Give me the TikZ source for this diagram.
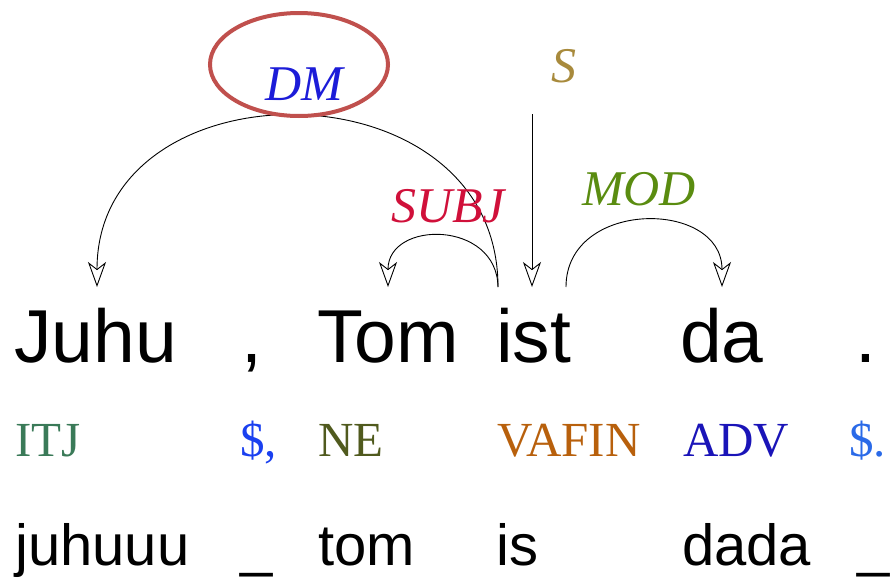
\documentclass[tikz,border=0pt]{standalone}
\usepackage{fontspec}
\setmainfont{Liberation Serif}
\newfontfamily\wordfont{Liberation Sans}
\usetikzlibrary{arrows.meta}

\definecolor{cITJ}{RGB}{58,122,88}
\definecolor{cPunct}{RGB}{26,64,240}
\definecolor{cNE}{RGB}{80,90,30}
\definecolor{cVAFIN}{RGB}{184,96,12}
\definecolor{cADV}{RGB}{26,20,184}
\definecolor{cPunctB}{RGB}{42,106,232}
\definecolor{cDM}{RGB}{28,28,216}
\definecolor{cSUBJ}{RGB}{208,16,58}
\definecolor{cMOD}{RGB}{90,140,16}
\definecolor{cS}{RGB}{168,138,60}
\definecolor{cRing}{RGB}{192,80,77}

\tikzset{
  word/.style={inner sep=0pt, anchor=base west, font=\wordfont\fontsize{75}{80}\selectfont},
  lemma/.style={inner sep=0pt, anchor=base west, font=\wordfont\fontsize{58}{62}\selectfont},
  tag/.style={inner sep=0pt, anchor=base west, font=\fontsize{49}{52}\selectfont},
  rel/.style={inner sep=0pt, anchor=base, font=\itshape\fontsize{50}{54}\selectfont},
  dep/.style={draw=black, line width=0.9pt,
    -{Stealth[open, length=25pt, width=18pt, inset=7pt]}},
}

\begin{document}
\begin{tikzpicture}[x=1pt, y=-1pt]
\useasboundingbox (0,0) rectangle (895,584);

% tokens
\node[word] (w1) at (14,362) {Juhu};
\node[word] (w2) at (241,362) {,};
\node[word] (w3) at (317,362) {Tom};
\node[word] (w4) at (496,362) {ist};
\node[word] (w5) at (680,362) {da};
\node[word] (w6) at (855,362) {.};

% part-of-speech tags
\node[tag, text=cITJ]    (t1) at (15,456) {ITJ};
\node[tag, text=cPunct]  (t2) at (240,456) {\$,};
\node[tag, text=cNE]     (t3) at (318,456) {NE};
\node[tag, text=cVAFIN]  (t4) at (497,456) {VAFIN};
\node[tag, text=cADV]    (t5) at (683,456) {ADV};
\node[tag, text=cPunctB] (t6) at (849,456) {\$.};

% lemmas
\node[lemma] (l1) at (15,565) {juhuuu};
\node[lemma] (l2) at (240,565) {\_};
\node[lemma] (l3) at (318,565) {tom};
\node[lemma] (l4) at (496,565) {is};
\node[lemma] (l5) at (682,565) {dada};
\node[lemma] (l6) at (857,565) {\_};

% attachment points above the tokens
\coordinate (juhu-in) at (97,287);
\coordinate (tom-in) at (388,287);
\coordinate (ist-out) at (498,287);
\coordinate (ist-in) at (532,287);
\coordinate (ist-mod) at (566,287);
\coordinate (da-in) at (722,287);
\coordinate (root) at (532,114);

% dependency arcs
\draw[dep] (ist-out) .. controls (498,60) and (97,60) .. (juhu-in);
\draw[dep] (ist-out) .. controls (497,220) and (388,220) .. (tom-in);
\draw[dep] (ist-mod) .. controls (566,199) and (722,199) .. (da-in);
\draw[dep] (root) -- (ist-in);

% relation labels
\node[rel, text=cDM]   (rDM)   at (304,100) {DM};
\node[rel, text=cSUBJ] (rSUBJ) at (448,222) {SUBJ};
\node[rel, text=cMOD]  (rMOD)  at (639,205) {MOD};
\node[rel, text=cS]    (rS)    at (564,82)  {S};

% highlight ring
\draw[cRing, line width=4pt] (299,64.5) ellipse [x radius=89, y radius=51.5];
\end{tikzpicture}
\end{document}
